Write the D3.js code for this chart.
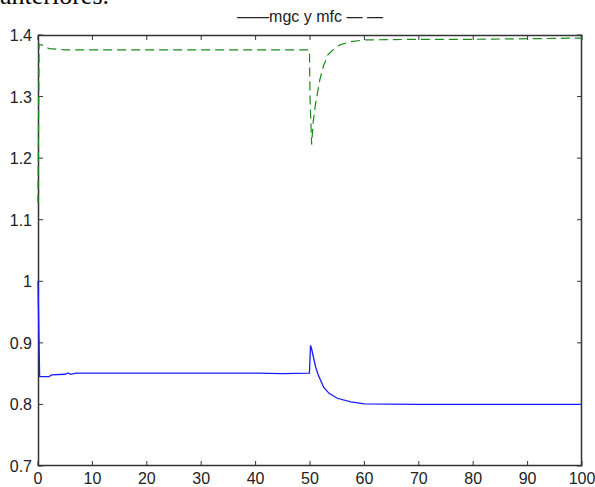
<!DOCTYPE html>
<html><head><meta charset="utf-8">
<script src="https://cdn.jsdelivr.net/npm/d3@7"></script>
<style>body{margin:0;background:#fff}svg{display:block}</style>
</head><body>
<script>
const xTicks = [0,10,20,30,40,50,60,70,80,90,100];
const yTicks = [0.7,0.8,0.9,1.0,1.1,1.2,1.3,1.4];
const yTickLabels = ["0.7","0.8","0.9","1","1.1","1.2","1.3","1.4"];
const titleText = "——mgc y mfc — —";

const mgcT = [0,0.3,2,2.5,5,5.5,6,7,20,40,45,49.9,50.1,50.3,51,51.5,52.5,53.5,55,57.5,60,70,100];
const mgcV = [1.0,0.845,0.845,0.848,0.849,0.851,0.849,0.851,0.851,0.851,0.850,0.851,0.896,0.89,0.862,0.848,0.828,0.818,0.810,0.804,0.801,0.800,0.800];

const mfcT = [0,0.2,1,2,5,10,20,30,40,49.9,50.0,50.3,50.6,51,51.8,52.5,53.3,54.5,55.5,57.4,60,70,80,90,100];
const mfcV = [1.127,1.385,1.383,1.378,1.376,1.376,1.376,1.376,1.376,1.376,1.30,1.222,1.26,1.287,1.327,1.350,1.368,1.378,1.384,1.389,1.392,1.393,1.393,1.394,1.395];

const W=595,H=487;
const L=38,R=582,T=35,B=466;
const svg=d3.select("body").append("svg").attr("width",W).attr("height",H);
const x=d3.scaleLinear().domain([0,100]).range([L,R]);
const y=d3.scaleLinear().domain([0.7,1.4]).range([B,T]);

svg.append("text").attr("x",0).attr("y",4).attr("font-family","Liberation Serif, serif")
  .attr("font-size",26).attr("fill","#000").text("anteriores.");

const line=d3.line().x(d=>x(d[0])).y(d=>y(d[1]));
const mgc=mgcT.map((t,i)=>[t,mgcV[i]]);
const mfc=mfcT.map((t,i)=>[t,mfcV[i]]);

const axisCol="#333";
const font="Liberation Sans, Arial, sans-serif";

// ticks (inside, all four sides)
const g=svg.append("g");
xTicks.forEach(t=>{
  g.append("line").attr("x1",x(t)).attr("x2",x(t)).attr("y1",B).attr("y2",B-5).attr("stroke",axisCol);
  g.append("line").attr("x1",x(t)).attr("x2",x(t)).attr("y1",T).attr("y2",T+5).attr("stroke",axisCol);
  g.append("text").attr("x",x(t)).attr("y",484).attr("text-anchor","middle")
   .attr("font-family",font).attr("font-size",16).attr("fill","#222").text(t);
});
yTicks.forEach((v,i)=>{
  g.append("line").attr("x1",L).attr("x2",L+5).attr("y1",y(v)).attr("y2",y(v)).attr("stroke",axisCol);
  g.append("line").attr("x1",R).attr("x2",R-5).attr("y1",y(v)).attr("y2",y(v)).attr("stroke",axisCol);
  g.append("text").attr("x",32).attr("y",y(v)+6).attr("text-anchor","end")
   .attr("font-family",font).attr("font-size",16).attr("fill","#222").text(yTickLabels[i]);
});

svg.append("rect").attr("x",L+0.5).attr("y",T+0.5).attr("width",R-L-1).attr("height",B-T-1)
  .attr("fill","none").attr("stroke",axisCol).attr("stroke-width",1.5);

svg.append("path").datum(mgc).attr("d",line).attr("fill","none").attr("stroke","#1a1aff").attr("stroke-width",1.3);
svg.append("path").datum(mfc).attr("d",line).attr("fill","none").attr("stroke","#1a8a1a")
  .attr("stroke-width",1.2).attr("stroke-dasharray","9,5");

svg.append("text").attr("x",310).attr("y",22).attr("text-anchor","middle")
  .attr("font-family",font).attr("font-size",16).attr("fill","#222").text(titleText);
</script>
</body></html>
